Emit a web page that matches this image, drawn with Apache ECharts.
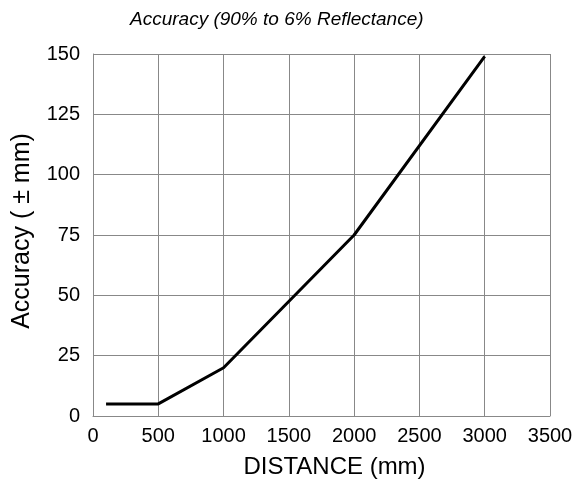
<!DOCTYPE html>
<html>
<head>
<meta charset="utf-8">
<script src="https://cdn.jsdelivr.net/npm/echarts@6/dist/echarts.min.js"></script>
<style>
html, body { margin: 0; padding: 0; background: #fff; }
#chart { width: 576px; height: 488px; }
</style>
</head>
<body>
<div id="chart"></div>
<script>
// Distance (mm) and accuracy (± mm) for 90% to 6% reflectance
const distance = [100, 500, 1000, 2000, 3000];
const accuracy = [5, 5, 20, 75, 149];
const xTicks = [0, 500, 1000, 1500, 2000, 2500, 3000, 3500];
const yTicks = [0, 25, 50, 75, 100, 125, 150];

const font = 'Liberation Sans, Arial, sans-serif';
const chart = echarts.init(document.getElementById('chart'), null, { renderer: 'canvas' });

chart.setOption({
  animation: false,
  backgroundColor: '#fff',
  title: {
    text: 'Accuracy (90% to 6% Reflectance)',
    left: 130,
    top: 10,
    padding: 0,
    textStyle: { fontFamily: font, fontSize: 19, fontStyle: 'italic', fontWeight: 'normal', color: '#000' }
  },
  grid: { left: 93, right: 26, top: 54, bottom: 72, containLabel: false },
  xAxis: {
    type: 'value',
    min: xTicks[0],
    max: xTicks[xTicks.length - 1],
    interval: 500,
    name: 'DISTANCE (mm)',
    nameLocation: 'middle',
    nameGap: 39,
    nameTextStyle: { fontFamily: font, fontSize: 24, color: '#000', padding: [0, 0, 0, 26] },
    axisLine: { show: true, lineStyle: { color: '#888', width: 1 } },
    axisTick: { show: false },
    axisLabel: { fontFamily: font, fontSize: 20, color: '#000', margin: 10, formatter: v => String(v) },
    splitLine: { show: true, lineStyle: { color: '#888', width: 1 } }
  },
  yAxis: {
    type: 'value',
    min: yTicks[0],
    max: yTicks[yTicks.length - 1],
    interval: 25,
    name: 'Accuracy ( ± mm)',
    nameLocation: 'middle',
    nameGap: 58,
    nameRotate: 90,
    nameTextStyle: { fontFamily: font, fontSize: 25, color: '#000', padding: [0, 0, 0, 8] },
    axisLine: { show: true, lineStyle: { color: '#888', width: 1 } },
    axisTick: { show: false },
    axisLabel: { fontFamily: font, fontSize: 20, color: '#000', margin: 13, formatter: v => String(v) },
    splitLine: { show: true, lineStyle: { color: '#888', width: 1 } }
  },
  series: [{
    type: 'line',
    data: distance.map((d, i) => [d, accuracy[i]]),
    showSymbol: false,
    symbol: 'none',
    lineStyle: { color: '#000', width: 3 },
    z: 5
  }]
});
</script>
</body>
</html>
